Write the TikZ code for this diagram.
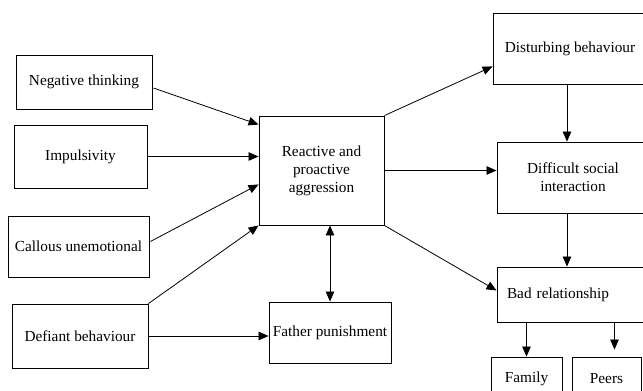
\documentclass[tikz,border=0pt]{standalone}
\usepackage{fontspec}
\setmainfont{Liberation Serif}
\usetikzlibrary{arrows.meta,calc}

\begin{document}
\begin{tikzpicture}[x=1pt,y=-1pt,
    box/.style={draw,line width=0.9pt,inner sep=0pt,align=center,
      font=\fontsize{15.3}{18}\selectfont},
    arr/.style={line width=0.8pt,-{Triangle[length=10pt,width=8.5pt]}},
    biarr/.style={line width=0.8pt,{Triangle[length=10pt,width=8.5pt]}-{Triangle[length=10pt,width=8.5pt]}}]
   \clip (0,0) rectangle (643,391);
   \node[box,minimum width=136pt,minimum height=54pt] (neg) at (84,82) {Negative thinking};
   \node[box,minimum width=133pt,minimum height=63pt] (imp) at (80.5,156.5) {Impulsivity};
   \node[box,minimum width=141pt,minimum height=61pt] (cal) at (78.5,246.5) {Callous unemotional};
   \node[box,minimum width=136pt,minimum height=64pt] (def) at (80,336) {Defiant behaviour};
   \node[box,minimum width=125pt,minimum height=109pt] (ctr) at (321.5,170.5) {Reactive and\\proactive\\aggression};
   \node[box,minimum width=122pt,minimum height=61pt] (fat) at (330,332.5) {Father punishment};
   \node[box,minimum width=154pt,minimum height=71pt] (dis) at (570,48.5) {Disturbing behaviour};
   \node[box,minimum width=152pt,minimum height=71pt] (dif) at (573,177.5) {Difficult social\\interaction};
   \node[box,minimum width=153pt,minimum height=55pt,text width=133pt,align=left] (bad) at (573.5,294.5) {Bad relationship};
   \node[box,minimum width=71pt,minimum height=43pt] (fam) at (526.5,378.5) {Family};
   \node[box,minimum width=69pt,minimum height=43pt] (peer) at (606.5,378.5) {Peers};
   \draw[arr] ($(neg.east)+(1,6)$) -- ($(ctr.north west)+(0,9)$);
   \draw[arr] (imp.east) -- (ctr.west |- imp.east);
   \draw[arr] ($(cal.east)+(1,-5)$) -- ($(ctr.south west)+(0,-41)$);
   \draw[arr] (def.north east) -- (ctr.south west);
   \draw[arr] (def.east) -- (fat.west |- def.east);
   \draw[biarr] (fat.north) -- (ctr.south -| fat.north);
   \draw[arr] (ctr.north east) -- ($(dis.south west)+(0,-18)$);
   \draw[arr] (ctr.east) -- (dif.west |- ctr.east);
   \draw[arr] (ctr.south east) -- ($(bad.west)+(0,-4)$);
   \coordinate (vline) at ($(dis.south)+(-3,0)$);
   \draw[arr] (vline) -- (vline |- dif.north);
   \draw[arr] (vline |- dif.south) -- (vline |- bad.north);
   \draw[arr] (fam.north |- bad.south) -- (fam.north);
   \coordinate (ptip) at ($(peer.north)+(8,-7)$);
   \draw[arr] (ptip |- bad.south) -- (ptip);
\end{tikzpicture}
\end{document}
